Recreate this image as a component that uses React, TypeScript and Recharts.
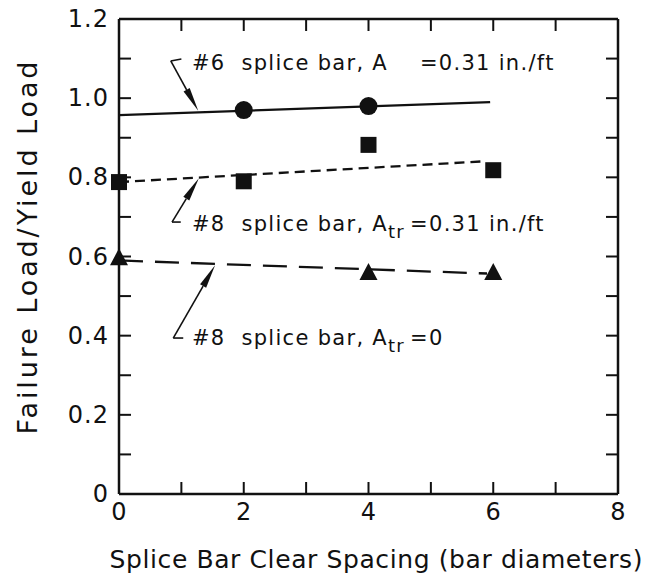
import React from 'react'
import {
  ComposedChart, Line, Scatter, XAxis, YAxis, ReferenceLine, ReferenceDot,
} from 'recharts'

// measured data (spacing in bar diameters, failure load / yield load)
const circleX = [2, 4]
const circleY = [0.97, 0.98]
const squareX = [0, 2, 4, 6]
const squareY = [0.788, 0.79, 0.882, 0.818]
const triangleX = [0, 4, 6]
const triangleY = [0.598, 0.561, 0.561]

// fitted lines (start / end)
const fitSolidX = [0, 5.95]
const fitSolidY = [0.957, 0.99]
const fitDashX = [0, 5.8]
const fitDashY = [0.788, 0.84]
const fitLongX = [0, 5.9]
const fitLongY = [0.59, 0.557]

const X_MAX = 8
const Y_MAX = 1.2
const xTicks = [0, 1, 2, 3, 4, 5, 6, 7, 8]
const xLabels = [0, 2, 4, 6, 8]
const yTicks = [0, 0.1, 0.2, 0.3, 0.4, 0.5, 0.6, 0.7, 0.8, 0.9, 1.0, 1.1, 1.2]
const yLabels = [0, 0.2, 0.4, 0.6, 0.8, 1.0, 1.2]

// annotations: text anchor (baseline, left) and leader corner / short end / arrow tip
const noteX = [1.17, 1.17, 1.17]
const noteY = [1.071, 0.664, 0.376]
const leaderCorner = [[0.83, 1.094], [0.85, 0.687], [0.87, 0.394]]
const leaderEnd = [[1.0, 1.099], [0.99, 0.687], [1.03, 0.394]]
const leaderTip = [[1.27, 0.968], [1.28, 0.798], [1.54, 0.578]]

const FONT = '"DejaVu Sans", sans-serif'
const INK = '#111'

const W = 642
const H = 570
const M = { top: 11, right: 32, left: 0, bottom: 0 }
const Y_AXIS_W = 111
const X_AXIS_H = 84
const PLOT_W = 499
const PLOT_H = 475

const zip = (xs: number[], ys: number[]) => xs.map((x, i) => ({ x, y: ys[i] }))

const circles = zip(circleX, circleY)
const squares = zip(squareX, squareY)
const triangles = zip(triangleX, triangleY)
const fitSolid = zip(fitSolidX, fitSolidY)
const fitDash = zip(fitDashX, fitDashY)
const fitLong = zip(fitLongX, fitLongY)

const fmtY = (v: number) => (v === 0 ? '0' : v.toFixed(1))

const TICK = 12

// left ticks plus the mirrored ticks on the right side of the box
const LeftTick = (p: any) => {
  const v = p.payload.value
  return (
    <g>
      <line x1={p.x} y1={p.y} x2={p.x + TICK} y2={p.y} stroke={INK} strokeWidth={2} />
      <line x1={p.x + PLOT_W} y1={p.y} x2={p.x + PLOT_W - TICK} y2={p.y} stroke={INK} strokeWidth={2} />
      {yLabels.includes(v) && (
        <text x={p.x - 10} y={p.y} textAnchor="end" dominantBaseline="central"
          fontFamily={FONT} fontSize={24} letterSpacing={1} fill={INK}>
          {fmtY(v)}
        </text>
      )}
    </g>
  )
}

// bottom ticks plus the mirrored ticks on the top side of the box
const BottomTick = (p: any) => {
  const v = p.payload.value
  return (
    <g>
      <line x1={p.x} y1={p.y} x2={p.x} y2={p.y - TICK} stroke={INK} strokeWidth={2} />
      <line x1={p.x} y1={p.y - PLOT_H} x2={p.x} y2={p.y - PLOT_H + TICK} stroke={INK} strokeWidth={2} />
      {xLabels.includes(v) && (
        <text x={p.x} y={p.y + 26} textAnchor="middle"
          fontFamily={FONT} fontSize={24} fill={INK}>
          {v}
        </text>
      )}
    </g>
  )
}

const Circle = (p: any) => <circle cx={p.cx} cy={p.cy} r={9} fill={INK} />
const Square = (p: any) => <rect x={p.cx - 8} y={p.cy - 8} width={16} height={16} fill={INK} />
const Triangle = (p: any) => (
  <polygon points={`${p.cx},${p.cy - 9} ${p.cx + 9},${p.cy + 8} ${p.cx - 9},${p.cy + 8}`} fill={INK} />
)

// leader line with long filled arrowhead at (x2, y2)
const Arrow = (p: any) => {
  const { x1, y1, x2, y2 } = p
  const dx = x2 - x1
  const dy = y2 - y1
  const len = Math.sqrt(dx * dx + dy * dy) || 1
  const ux = dx / len
  const uy = dy / len
  const bx = x2 - ux * 24
  const by = y2 - uy * 24
  return (
    <g>
      <line x1={x1} y1={y1} x2={bx} y2={by} stroke={INK} strokeWidth={1.6} />
      <polygon
        points={`${x2},${y2} ${bx - uy * 3.5},${by + ux * 3.5} ${bx + uy * 3.5},${by - ux * 3.5}`}
        fill={INK}
      />
    </g>
  )
}

const Plain = (p: any) => (
  <line x1={p.x1} y1={p.y1} x2={p.x2} y2={p.y2} stroke={INK} strokeWidth={1.6} />
)

const noteStyle = { whiteSpace: 'pre' as const }

const Note = (i: number) => (p: any) => {
  const common = {
    x: p.cx, y: p.cy, fontFamily: FONT, fontSize: 21, letterSpacing: 1.3, fill: INK, style: noteStyle,
  }
  if (i === 0) return <text {...common}>{'#6  splice bar, A    =0.31 in./ft'}</text>
  if (i === 1) {
    return (
      <text {...common}>
        <tspan>{'#8  splice bar, A'}</tspan>
        <tspan dy={7} fontSize={18}>tr</tspan>
        <tspan dy={-7} dx={5}>{'=0.31 in./ft'}</tspan>
      </text>
    )
  }
  return (
    <text {...common}>
      <tspan>{'#8  splice bar, A'}</tspan>
      <tspan dy={7} fontSize={18}>tr</tspan>
      <tspan dy={-7} dx={5}>{'=0'}</tspan>
    </text>
  )
}

export default function App() {
  return (
    <ComposedChart width={W} height={H} margin={M}>
      <XAxis
        dataKey="x" type="number" domain={[0, X_MAX]} ticks={xTicks} interval={0}
        height={X_AXIS_H} tickSize={0} tickMargin={0} tickLine={false}
        axisLine={{ stroke: INK, strokeWidth: 2.5 }} tick={BottomTick}
        label={{
          content: () => (
            <text x={368} y={560} textAnchor="middle" fontFamily={FONT} fontSize={25}
              textLength={533} lengthAdjust="spacing" fill={INK}>
              Splice Bar Clear Spacing (bar diameters)
            </text>
          ),
        }}
      />
      <YAxis
        type="number" domain={[0, Y_MAX]} ticks={yTicks} interval={0} width={Y_AXIS_W}
        tickSize={0} tickMargin={0} tickLine={false}
        axisLine={{ stroke: INK, strokeWidth: 2.5 }} tick={LeftTick}
        label={{
          content: () => (
            <text x={29} y={240} transform="rotate(-90 29 240)" textAnchor="middle"
              fontFamily={FONT} fontSize={27} textLength={373} lengthAdjust="spacing" fill={INK}>
              Failure Load/Yield Load
            </text>
          ),
        }}
      />

      {/* top and right sides of the box */}
      <ReferenceLine y={Y_MAX} stroke={INK} strokeWidth={2.5} ifOverflow="visible" />
      <ReferenceLine x={X_MAX} stroke={INK} strokeWidth={2.5} ifOverflow="visible" />

      <Line data={fitSolid} dataKey="y" stroke={INK} strokeWidth={2.3}
        dot={false} activeDot={false} isAnimationActive={false} />
      <Line data={fitDash} dataKey="y" stroke={INK} strokeWidth={2.3}
        strokeDasharray="10 6" dot={false} activeDot={false} isAnimationActive={false} />
      <Line data={fitLong} dataKey="y" stroke={INK} strokeWidth={2.3}
        strokeDasharray="24 12" dot={false} activeDot={false} isAnimationActive={false} />

      <Scatter data={circles} dataKey="y" shape={Circle} isAnimationActive={false} />
      <Scatter data={squares} dataKey="y" shape={Square} isAnimationActive={false} />
      <Scatter data={triangles} dataKey="y" shape={Triangle} isAnimationActive={false} />

      {leaderCorner.map((c, i) => (
        <ReferenceLine key={`s${i}`} ifOverflow="visible"
          segment={[{ x: c[0], y: c[1] }, { x: leaderEnd[i][0], y: leaderEnd[i][1] }]} shape={Plain} />
      ))}
      {leaderCorner.map((c, i) => (
        <ReferenceLine key={`a${i}`} ifOverflow="visible"
          segment={[{ x: c[0], y: c[1] }, { x: leaderTip[i][0], y: leaderTip[i][1] }]} shape={Arrow} />
      ))}
      {noteX.map((x, i) => (
        <ReferenceDot key={`n${i}`} x={x} y={noteY[i]} r={0}
          ifOverflow="visible" shape={Note(i)} />
      ))}
    </ComposedChart>
  )
}
